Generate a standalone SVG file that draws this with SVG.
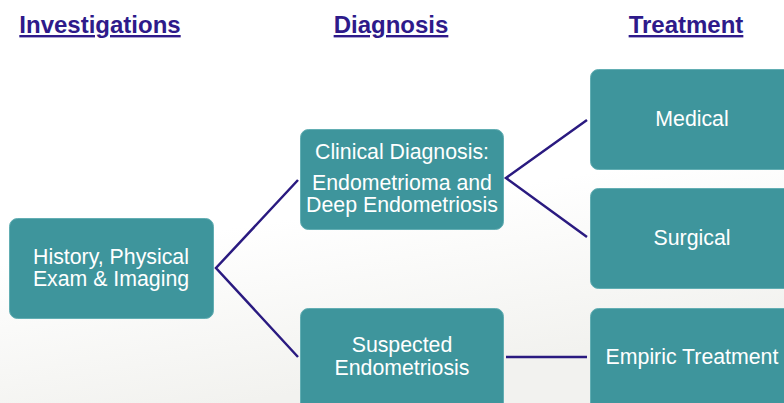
<svg xmlns="http://www.w3.org/2000/svg" width="784" height="403" viewBox="0 0 784 403">
<defs>
<style>
.hdr{font-family:"Liberation Sans",Arial,sans-serif;font-weight:bold;font-size:24px;fill:#2e1a8a;text-decoration:underline;text-anchor:middle}
.box{fill:#3e959c;stroke:#62aeb3;stroke-width:1}
.lbl{font-family:"Liberation Sans",Arial,sans-serif;font-size:21.3px;fill:#ffffff;text-anchor:middle}
.con{stroke:#2a1a80;stroke-width:2.5;fill:none}
</style>
<linearGradient id="bg" x1="0" y1="0" x2="0.3" y2="1">
<stop offset="0.6" stop-color="#ffffff"/>
<stop offset="1" stop-color="#f2f2ef"/>
</linearGradient>
</defs>
<rect width="784" height="403" fill="url(#bg)"/>
<g id="headers">
<text class="hdr" x="100" y="33">Investigations</text>
<text class="hdr" x="391" y="33">Diagnosis</text>
<text class="hdr" x="686" y="33">Treatment</text>
</g>
<g id="connectors">
<path class="con" d="M298,180 L216,268 L298,357"/>
<path class="con" d="M587,120 L506,178 L587,237"/>
<path class="con" d="M506,357 L587,357"/>
</g>
<g id="history">
<rect class="box" x="9.5" y="218.5" width="204" height="100" rx="8"/>
<text class="lbl" x="111" y="264">History, Physical</text>
<text class="lbl" x="111" y="286">Exam &amp; Imaging</text>
</g>
<g id="clinical">
<rect class="box" x="300.5" y="129.5" width="203" height="100" rx="8"/>
<text class="lbl" x="402" y="159">Clinical Diagnosis:</text>
<text class="lbl" x="402" y="190">Endometrioma and</text>
<text class="lbl" x="402" y="212">Deep Endometriosis</text>
</g>
<g id="suspected">
<rect class="box" x="300.5" y="308.5" width="203" height="110" rx="8"/>
<text class="lbl" x="402" y="352">Suspected</text>
<text class="lbl" x="402" y="375">Endometriosis</text>
</g>
<g id="medical">
<rect class="box" x="590.5" y="69.5" width="210" height="100" rx="8"/>
<text class="lbl" x="692" y="126">Medical</text>
</g>
<g id="surgical">
<rect class="box" x="590.5" y="188.5" width="210" height="100" rx="8"/>
<text class="lbl" x="692" y="245">Surgical</text>
</g>
<g id="empiric">
<rect class="box" x="590.5" y="308.5" width="210" height="110" rx="8"/>
<text class="lbl" x="692" y="364">Empiric Treatment</text>
</g>
</svg>
